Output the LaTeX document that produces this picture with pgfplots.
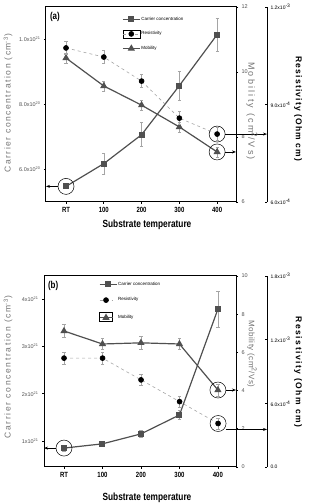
\documentclass[border=0pt]{standalone}
\usepackage{fontspec}
\setmainfont{Liberation Sans}
\newfontfamily\narrow[FakeStretch=0.8]{Liberation Sans}
\newfontfamily\spacedA[LetterSpace=18]{Liberation Sans}
\newfontfamily\spacedB[LetterSpace=20]{Liberation Sans}
\newfontfamily\spacedM[LetterSpace=25]{Liberation Sans}
\newfontfamily\spacedMb[LetterSpace=6]{Liberation Sans}
\newfontfamily\spacedRa[LetterSpace=14]{Liberation Sans}
\newfontfamily\spacedRb[LetterSpace=18]{Liberation Sans}
\usepackage{pgfplots}
\pgfplotsset{compat=1.18}
\usetikzlibrary{arrows.meta}
\definecolor{dg}{RGB}{80,80,80}
\definecolor{mg}{RGB}{115,115,115}
\definecolor{lg}{RGB}{165,165,165}
\tikzset{arr/.style={-{Stealth[length=4pt,width=3pt]}, line width=0.8pt, black}}
\pgfplotsset{
  every axis/.append style={scale only axis, clip=false, /pgf/number format/assume math mode=true,
    major tick length=2pt, tick style={black, line width=0.6pt}},
  errs/.style={error bars/.cd, y dir=both, y explicit, error bar style={lg, solid, line width=0.5pt}, error mark options={rotate=90, lg, solid, mark size=1.6pt, line width=0.5pt}},
  cc/.style={dg, line width=1.2pt, mark=square*, mark size=2.4pt, mark options={solid, fill=dg, draw=dg}},
  mob/.style={dg, line width=1.2pt, mark=triangle*, mark size=3pt, mark options={solid, fill=dg, draw=dg}},
  res/.style={lg, line width=0.6pt, dashed, mark=*, mark size=2.5pt, mark options={solid, fill=black, draw=black}},
  ring/.style={only marks, mark=o, mark size=8pt, mark options={black, line width=0.5pt}, forget plot},
  leg/.style={legend style={font=\fontsize{4.5}{5}\selectfont, draw=none, fill=none, inner sep=0pt, nodes={inner sep=1pt}}, legend cell align=left},
  boxlegA/.style={legend image code/.code={\draw[solid,black,line width=0.4pt] (0pt,-4pt) rectangle (17pt,4pt);
    \draw[mark repeat=2,mark phase=2,##1] plot coordinates {(0pt,0pt)(8.5pt,0pt)(17pt,0pt)};}},
  shortB/.style={legend image code/.code={\draw[mark repeat=2,mark phase=2,##1] plot coordinates {(0pt,0pt)(6.5pt,0pt)(13pt,0pt)};}},
  boxlegB/.style={legend image code/.code={\draw[solid,black,line width=0.4pt] (0pt,-4pt) rectangle (13pt,5pt);
    \draw[mark repeat=2,mark phase=2,##1] plot coordinates {(0pt,0pt)(6.5pt,0pt)(13pt,0pt)};}},
}
\begin{document}
\begin{tikzpicture}
\path[use as bounding box] (0pt,0pt) rectangle (310pt,503pt);
%%%%%%%%%%%%%%%% panel (a)
\begin{axis}[at={(46pt,301pt)}, anchor=south west, width=190pt, height=195pt,
  xmin=-0.53, xmax=4.50, ymin=5, ymax=11,
  axis line style={line width=1pt},
  xtick={0,1,2,3,4}, xticklabels={RT,100,200,300,400}, xtick pos=bottom, ytick pos=left,
  ytick={6,8,10}, yticklabels={6.0x10\textsuperscript{20},8.0x10\textsuperscript{20},1.0x10\textsuperscript{21}},
  tick align=outside,
  xticklabel style={font=\narrow\bfseries\fontsize{7.5}{8}\selectfont},
  yticklabel style={font=\fontsize{5.5}{6}\selectfont, dg},
  leg, legend style={at={(0.4,0.955)}, anchor=north west, row sep=7pt}]
\addplot+[cc, errs] coordinates {(0,5.48) +- (0,0.05) (1,6.18) +- (0,0.32) (2,7.07) +- (0,0.37) (3,8.58) +- (0,0.44) (4,10.15) +- (0,0.5)};
\addlegendentry{Carrier concentration}
\addlegendimage{res, boxlegA}\addlegendentry{Resistivity}
\addlegendimage{mob}\addlegendentry{Mobility}
\addplot[ring] coordinates {(0,5.48)};
\draw[arr] (-0.21,5.48) -- (-0.53,5.48);
\node[anchor=north west, font=\narrow\bfseries\fontsize{10}{10}\selectfont, inner sep=0pt] at (rel axis cs:0.02,0.975) {(a)};
\end{axis}
\begin{axis}[at={(46pt,301pt)}, anchor=south west, width=190pt, height=195pt,
  xmin=-0.53, xmax=4.50, ymin=6, ymax=12,
  axis y line*=right, axis x line=none, axis line style={line width=1pt},
  ytick={6,8,10,12}, tick align=outside, yticklabel style={font=\fontsize{5.5}{6}\selectfont, dg}]
\addplot+[mob, errs] coordinates {(0,10.43) +- (0,0.15) (1,9.57) +- (0,0.15) (2,8.98) +- (0,0.15) (3,8.31) +- (0,0.15) (4,7.54) +- (0,0.15)};
\addplot[ring] coordinates {(4,7.54)};
\draw[arr] (4.21,7.54) -- (4.50,7.54);
\end{axis}
\begin{axis}[at={(46pt,301pt)}, anchor=south west, width=221pt, height=195pt,
  xmin=-0.53, xmax=5.32, ymin=6, ymax=12,
  axis y line*=right, axis x line=none, axis line style={line width=0.9pt},
  ytick={6,9,12}, yticklabels={6.0x10\textsuperscript{-4},9.0x10\textsuperscript{-4},1.2x10\textsuperscript{-3}},
  tick align=inside, yticklabel style={font=\fontsize{5}{6}\selectfont}]
\addplot+[res, errs] coordinates {(0,10.74) +- (0,0.2) (1,10.46) +- (0,0.2) (2,9.72) +- (0,0.2) (3,8.58) +- (0,0.2) (4,8.09) +- (0,0.2)};
\addplot[ring] coordinates {(4,8.09)};
\draw[arr] (4.21,8.09) -- (5.32,8.09);
\end{axis}
\node[rotate=90, mg, font=\spacedA\fontsize{8.5}{8.5}\selectfont] at (8pt,400pt) {Carrier concentration (cm\textsuperscript{-3})};
\node[rotate=-90, mg, font=\spacedM\fontsize{9}{9}\selectfont] at (252pt,392pt) {Mobility (cm\raisebox{3.5pt}{\fontsize{8}{8}\selectfont 2}/Vs)};
\node[rotate=-90, font=\spacedRa\bfseries\fontsize{8.5}{8.5}\selectfont] at (298pt,394pt) {Resistivity (Ohm cm)};
\node[font=\narrow\bfseries\fontsize{10.4}{10.4}\selectfont] at (147pt,278pt) {Substrate temperature};
%%%%%%%%%%%%%%%% panel (b)
\begin{axis}[at={(44pt,36pt)}, anchor=south west, width=192pt, height=191pt,
  xmin=-0.52, xmax=4.47, ymin=0.45, ymax=4.49,
  axis line style={line width=1pt},
  xtick={0,1,2,3,4}, xticklabels={RT,100,200,300,400}, xtick pos=bottom, ytick pos=left,
  ytick={1,2,3,4}, yticklabels={1x10\textsuperscript{21},2x10\textsuperscript{21},3x10\textsuperscript{21},4x10\textsuperscript{21}},
  tick align=outside,
  xticklabel style={font=\narrow\bfseries\fontsize{7.5}{8}\selectfont},
  yticklabel style={font=\fontsize{5.5}{6}\selectfont, dg},
  leg, legend style={at={(0.285,0.975)}, anchor=north west, row sep=9pt}]
\addplot+[cc, errs] coordinates {(0,0.85) +- (0,0.06) (1,0.94) +- (0,0.06) (2,1.15) +- (0,0.08) (3,1.55) +- (0,0.1) (4,3.79) +- (0,0.38)};
\addlegendentry{Carrier concentration}
\addlegendimage{res, shortB}\addlegendentry{Resistivity}
\addlegendimage{mob, boxlegB}\addlegendentry{Mobility}
\addplot[ring] coordinates {(0,0.85)};
\draw[arr] (-0.21,0.85) -- (-0.52,0.85);
\node[anchor=north west, font=\narrow\bfseries\fontsize{10}{10}\selectfont, inner sep=0pt] at (rel axis cs:0.02,0.975) {(b)};
\end{axis}
\begin{axis}[at={(44pt,36pt)}, anchor=south west, width=192pt, height=191pt,
  xmin=-0.52, xmax=4.47, ymin=0, ymax=10,
  axis y line*=right, axis x line=none, axis line style={line width=1pt},
  ytick={0,2,4,6,8,10}, tick align=outside, yticklabel style={font=\fontsize{5.5}{6}\selectfont, dg}]
\addplot+[mob, errs] coordinates {(0,7.12) +- (0,0.35) (1,6.44) +- (0,0.3) (2,6.5) +- (0,0.35) (3,6.44) +- (0,0.3) (4,4.03) +- (0,0.3)};
\addplot[ring] coordinates {(4,4.03)};
\draw[arr] (4.21,4.03) -- (4.47,4.03);
\end{axis}
\begin{axis}[at={(44pt,36pt)}, anchor=south west, width=223pt, height=191pt,
  xmin=-0.52, xmax=5.27, ymin=0, ymax=18,
  axis y line*=right, axis x line=none, axis line style={line width=0.9pt},
  ytick={0,6,12,18}, yticklabels={0.0,6.0x10\textsuperscript{-4},1.2x10\textsuperscript{-3},1.8x10\textsuperscript{-3}},
  tick align=inside, yticklabel style={font=\fontsize{5}{6}\selectfont}]
\addplot+[res, errs] coordinates {(0,10.26) +- (0,0.6) (1,10.26) +- (0,0.6) (2,8.21) +- (0,0.5) (3,6.16) +- (0,0.5) (4,4.10) +- (0,0.5)};
\addplot[ring] coordinates {(4,4.10)};
\draw[arr] (4.2,3.54) -- (5.27,3.54);
\end{axis}
\node[rotate=90, mg, font=\spacedB\fontsize{8.5}{8.5}\selectfont] at (8pt,136pt) {Carrier concentration (cm\textsuperscript{-3})};
\node[rotate=-90, mg, font=\spacedMb\fontsize{8}{8}\selectfont] at (252pt,149pt) {Mobility (cm\raisebox{3pt}{\fontsize{7}{7}\selectfont 2}/Vs)};
\node[rotate=-90, font=\spacedRb\bfseries\fontsize{8.5}{8.5}\selectfont] at (298pt,131pt) {Resistivity (Ohm cm)};
\node[font=\narrow\bfseries\fontsize{10.4}{10.4}\selectfont] at (147pt,5pt) {Substrate temperature};
\end{tikzpicture}
\end{document}
